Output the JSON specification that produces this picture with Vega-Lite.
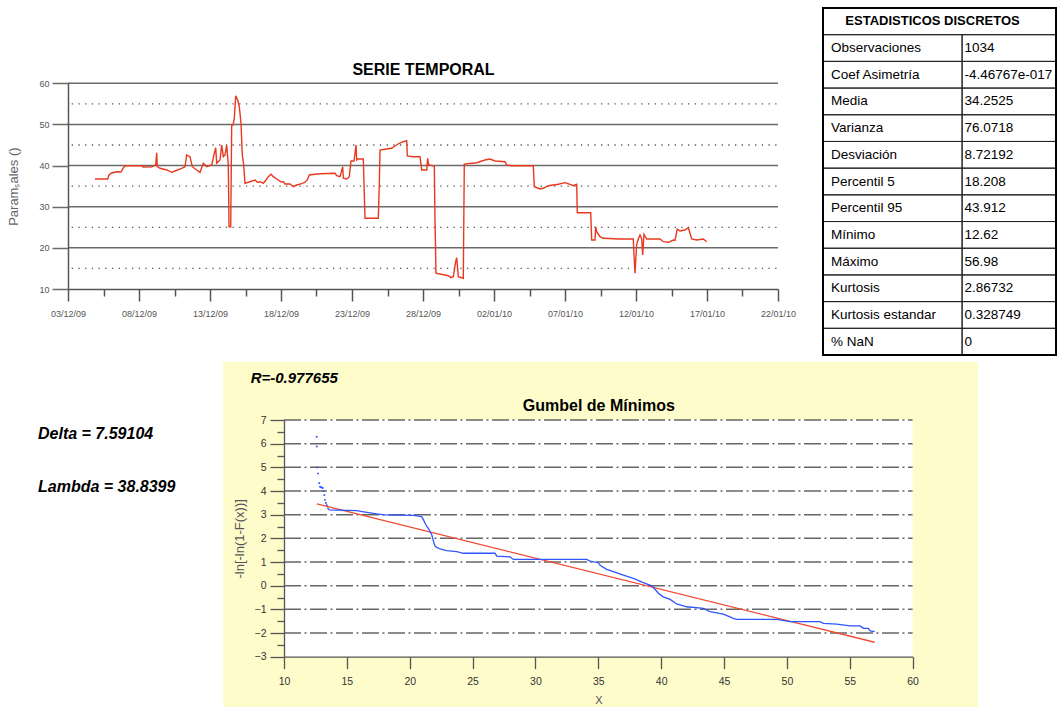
{
  "$schema": "https://vega.github.io/schema/vega-lite/v6.json",
  "width": 1058,
  "height": 709,
  "autosize": {"type": "none"},
  "padding": 0,
  "background": "white",
  "config": {
    "view": {"stroke": null},
    "font": "Liberation Sans",
    "axis": {"labelFont": "Liberation Sans", "titleFont": "Liberation Sans", "grid": false}
  },
  "datasets": {
    "serie": [
      {"fecha": "2009-12-04T21:38", "valor": 36.74},
      {"fecha": "2009-12-05T19:06", "valor": 36.74},
      {"fecha": "2009-12-05T21:18", "valor": 37.71},
      {"fecha": "2009-12-06T01:52", "valor": 38.20},
      {"fecha": "2009-12-06T10:19", "valor": 38.51},
      {"fecha": "2009-12-06T17:35", "valor": 38.44},
      {"fecha": "2009-12-06T20:58", "valor": 39.34},
      {"fecha": "2009-12-07T00:20", "valor": 39.97},
      {"fecha": "2009-12-08T04:34", "valor": 39.97},
      {"fecha": "2009-12-08T06:46", "valor": 39.65},
      {"fecha": "2009-12-08T21:28", "valor": 39.73},
      {"fecha": "2009-12-09T04:14", "valor": 40.14},
      {"fecha": "2009-12-09T05:55", "valor": 43.13},
      {"fecha": "2009-12-09T06:56", "valor": 39.73},
      {"fecha": "2009-12-09T11:30", "valor": 39.34},
      {"fecha": "2009-12-09T22:49", "valor": 38.93},
      {"fecha": "2009-12-10T07:16", "valor": 38.37},
      {"fecha": "2009-12-10T12:51", "valor": 38.68},
      {"fecha": "2009-12-11T00:10", "valor": 39.34},
      {"fecha": "2009-12-11T05:45", "valor": 39.73},
      {"fecha": "2009-12-11T08:37", "valor": 42.57},
      {"fecha": "2009-12-11T14:12", "valor": 42.16},
      {"fecha": "2009-12-11T18:05", "valor": 39.73},
      {"fecha": "2009-12-12T01:31", "valor": 38.93},
      {"fecha": "2009-12-12T07:06", "valor": 38.37},
      {"fecha": "2009-12-12T12:41", "valor": 40.55},
      {"fecha": "2009-12-12T18:25", "valor": 39.73},
      {"fecha": "2009-12-13T02:52", "valor": 40.14},
      {"fecha": "2009-12-13T07:16", "valor": 42.98},
      {"fecha": "2009-12-13T09:38", "valor": 44.35},
      {"fecha": "2009-12-13T11:19", "valor": 40.60},
      {"fecha": "2009-12-13T16:54", "valor": 41.36},
      {"fecha": "2009-12-13T19:46", "valor": 45.00},
      {"fecha": "2009-12-13T22:29", "valor": 42.16},
      {"fecha": "2009-12-14T01:21", "valor": 42.57},
      {"fecha": "2009-12-14T04:14", "valor": 45.00},
      {"fecha": "2009-12-14T06:56", "valor": 40.14},
      {"fecha": "2009-12-14T08:07", "valor": 25.14},
      {"fecha": "2009-12-14T10:59", "valor": 25.14},
      {"fecha": "2009-12-14T12:41", "valor": 49.86},
      {"fecha": "2009-12-14T14:52", "valor": 49.86},
      {"fecha": "2009-12-14T17:04", "valor": 51.49},
      {"fecha": "2009-12-14T19:26", "valor": 56.98},
      {"fecha": "2009-12-14T22:49", "valor": 55.94},
      {"fecha": "2009-12-15T01:31", "valor": 54.31},
      {"fecha": "2009-12-15T04:24", "valor": 50.28},
      {"fecha": "2009-12-15T06:36", "valor": 42.57},
      {"fecha": "2009-12-15T08:57", "valor": 40.14},
      {"fecha": "2009-12-15T11:09", "valor": 35.69},
      {"fecha": "2009-12-15T16:44", "valor": 35.94},
      {"fecha": "2009-12-16T04:03", "valor": 36.50},
      {"fecha": "2009-12-16T07:57", "valor": 35.94},
      {"fecha": "2009-12-16T12:30", "valor": 36.08},
      {"fecha": "2009-12-16T18:05", "valor": 35.69},
      {"fecha": "2009-12-16T22:39", "valor": 36.50},
      {"fecha": "2009-12-17T02:32", "valor": 37.30},
      {"fecha": "2009-12-17T07:06", "valor": 37.88},
      {"fecha": "2009-12-17T10:59", "valor": 37.30},
      {"fecha": "2009-12-17T19:26", "valor": 36.50},
      {"fecha": "2009-12-17T23:30", "valor": 36.08},
      {"fecha": "2009-12-18T03:53", "valor": 36.08},
      {"fecha": "2009-12-18T06:46", "valor": 35.52},
      {"fecha": "2009-12-18T15:13", "valor": 35.52},
      {"fecha": "2009-12-18T20:47", "valor": 34.87},
      {"fecha": "2009-12-19T02:32", "valor": 35.28},
      {"fecha": "2009-12-19T10:59", "valor": 35.60},
      {"fecha": "2009-12-19T16:34", "valor": 35.94},
      {"fecha": "2009-12-19T20:27", "valor": 36.50},
      {"fecha": "2009-12-19T23:50", "valor": 37.71},
      {"fecha": "2009-12-20T09:28", "valor": 37.88},
      {"fecha": "2009-12-20T17:55", "valor": 38.03},
      {"fecha": "2009-12-21T19:16", "valor": 38.12},
      {"fecha": "2009-12-21T22:08", "valor": 37.54},
      {"fecha": "2009-12-22T03:43", "valor": 37.30},
      {"fecha": "2009-12-22T08:17", "valor": 39.73},
      {"fecha": "2009-12-22T09:18", "valor": 36.91},
      {"fecha": "2009-12-22T15:03", "valor": 36.74},
      {"fecha": "2009-12-22T19:26", "valor": 37.30},
      {"fecha": "2009-12-22T22:18", "valor": 41.11},
      {"fecha": "2009-12-23T03:23", "valor": 41.11},
      {"fecha": "2009-12-23T06:46", "valor": 45.00},
      {"fecha": "2009-12-23T07:57", "valor": 41.36},
      {"fecha": "2009-12-23T10:39", "valor": 41.60},
      {"fecha": "2009-12-23T19:06", "valor": 41.60},
      {"fecha": "2009-12-23T21:58", "valor": 27.19},
      {"fecha": "2009-12-24T20:27", "valor": 27.19},
      {"fecha": "2009-12-24T22:08", "valor": 35.28},
      {"fecha": "2009-12-24T23:19", "valor": 43.79},
      {"fecha": "2009-12-25T10:39", "valor": 44.03},
      {"fecha": "2009-12-25T19:06", "valor": 44.20},
      {"fecha": "2009-12-26T00:41", "valor": 44.76},
      {"fecha": "2009-12-26T07:57", "valor": 45.42},
      {"fecha": "2009-12-26T14:42", "valor": 45.80},
      {"fecha": "2009-12-26T20:27", "valor": 46.05},
      {"fecha": "2009-12-26T21:28", "valor": 42.33},
      {"fecha": "2009-12-27T07:36", "valor": 42.16},
      {"fecha": "2009-12-27T18:56", "valor": 42.16},
      {"fecha": "2009-12-27T21:48", "valor": 38.93},
      {"fecha": "2009-12-28T06:15", "valor": 38.93},
      {"fecha": "2009-12-28T07:57", "valor": 41.77},
      {"fecha": "2009-12-28T09:38", "valor": 40.14},
      {"fecha": "2009-12-28T19:06", "valor": 39.90},
      {"fecha": "2009-12-28T20:17", "valor": 26.77},
      {"fecha": "2009-12-28T21:58", "valor": 13.82},
      {"fecha": "2009-12-29T18:46", "valor": 13.23},
      {"fecha": "2009-12-29T23:19", "valor": 12.75},
      {"fecha": "2009-12-30T03:13", "valor": 12.99},
      {"fecha": "2009-12-30T07:16", "valor": 16.64},
      {"fecha": "2009-12-30T08:57", "valor": 17.61},
      {"fecha": "2009-12-30T11:40", "valor": 12.99},
      {"fecha": "2009-12-30T20:07", "valor": 12.62},
      {"fecha": "2009-12-30T21:48", "valor": 40.38},
      {"fecha": "2009-12-31T18:46", "valor": 40.70},
      {"fecha": "2010-01-01T08:47", "valor": 41.36},
      {"fecha": "2010-01-01T17:14", "valor": 41.60},
      {"fecha": "2010-01-02T01:41", "valor": 41.11},
      {"fecha": "2010-01-02T18:35", "valor": 40.94},
      {"fecha": "2010-01-02T21:28", "valor": 40.14},
      {"fecha": "2010-01-03T05:55", "valor": 39.97},
      {"fecha": "2010-01-04T18:25", "valor": 39.97},
      {"fecha": "2010-01-04T20:07", "valor": 34.87},
      {"fecha": "2010-01-05T05:45", "valor": 34.31},
      {"fecha": "2010-01-05T11:19", "valor": 34.48},
      {"fecha": "2010-01-05T19:46", "valor": 35.11},
      {"fecha": "2010-01-06T12:41", "valor": 35.45},
      {"fecha": "2010-01-07T00:00", "valor": 35.84},
      {"fecha": "2010-01-07T08:27", "valor": 35.45},
      {"fecha": "2010-01-07T14:02", "valor": 35.11},
      {"fecha": "2010-01-07T19:46", "valor": 35.45},
      {"fecha": "2010-01-07T20:47", "valor": 28.55},
      {"fecha": "2010-01-08T19:26", "valor": 28.55},
      {"fecha": "2010-01-08T21:08", "valor": 21.91},
      {"fecha": "2010-01-09T02:42", "valor": 21.91},
      {"fecha": "2010-01-09T03:53", "valor": 25.14},
      {"fecha": "2010-01-09T05:35", "valor": 23.93},
      {"fecha": "2010-01-09T11:09", "valor": 22.71},
      {"fecha": "2010-01-09T16:44", "valor": 22.32},
      {"fecha": "2010-01-10T19:46", "valor": 22.15},
      {"fecha": "2010-01-11T19:26", "valor": 22.15},
      {"fecha": "2010-01-11T20:37", "valor": 18.26},
      {"fecha": "2010-01-11T22:18", "valor": 13.82},
      {"fecha": "2010-01-12T01:11", "valor": 20.86},
      {"fecha": "2010-01-12T03:53", "valor": 22.15},
      {"fecha": "2010-01-12T06:46", "valor": 23.13},
      {"fecha": "2010-01-12T09:38", "valor": 22.15},
      {"fecha": "2010-01-12T11:19", "valor": 18.26},
      {"fecha": "2010-01-12T13:31", "valor": 23.30},
      {"fecha": "2010-01-12T18:05", "valor": 22.15},
      {"fecha": "2010-01-13T16:34", "valor": 22.15},
      {"fecha": "2010-01-13T22:08", "valor": 21.50},
      {"fecha": "2010-01-14T06:36", "valor": 21.35},
      {"fecha": "2010-01-14T15:03", "valor": 21.91},
      {"fecha": "2010-01-14T17:55", "valor": 21.80},
      {"fecha": "2010-01-14T21:48", "valor": 24.58},
      {"fecha": "2010-01-15T02:22", "valor": 24.10},
      {"fecha": "2010-01-15T10:49", "valor": 24.34},
      {"fecha": "2010-01-15T16:24", "valor": 24.90},
      {"fecha": "2010-01-15T22:08", "valor": 22.15},
      {"fecha": "2010-01-16T06:36", "valor": 21.91},
      {"fecha": "2010-01-16T17:45", "valor": 22.15},
      {"fecha": "2010-01-16T23:30", "valor": 21.50}
    ],
    "estadisticos": [
      {"estadistico": "Observaciones", "valor": "1034"},
      {"estadistico": "Coef Asimetría", "valor": "-4.46767e-017"},
      {"estadistico": "Media", "valor": "34.2525"},
      {"estadistico": "Varianza", "valor": "76.0718"},
      {"estadistico": "Desviación", "valor": "8.72192"},
      {"estadistico": "Percentil 5", "valor": "18.208"},
      {"estadistico": "Percentil 95", "valor": "43.912"},
      {"estadistico": "Mínimo", "valor": "12.62"},
      {"estadistico": "Máximo", "valor": "56.98"},
      {"estadistico": "Kurtosis", "valor": "2.86732"},
      {"estadistico": "Kurtosis estandar", "valor": "0.328749"},
      {"estadistico": "% NaN", "valor": "0"}
    ],
    "empirica": [
      {"valor": 12.60, "reducida": 6.29},
      {"valor": 12.61, "reducida": 5.88},
      {"valor": 12.65, "reducida": 5.00},
      {"valor": 12.70, "reducida": 4.74},
      {"valor": 12.80, "reducida": 4.33},
      {"valor": 12.86, "reducida": 4.18},
      {"valor": 12.93, "reducida": 4.16},
      {"valor": 13.00, "reducida": 4.15},
      {"valor": 13.08, "reducida": 4.13},
      {"valor": 13.13, "reducida": 4.00},
      {"valor": 13.21, "reducida": 3.83},
      {"valor": 13.26, "reducida": 3.62},
      {"valor": 13.33, "reducida": 3.50},
      {"valor": 13.40, "reducida": 3.40},
      {"valor": 13.45, "reducida": 3.30},
      {"valor": 13.60, "reducida": 3.20},
      {"valor": 15.78, "reducida": 3.17},
      {"valor": 16.58, "reducida": 3.10},
      {"valor": 17.37, "reducida": 3.03},
      {"valor": 18.04, "reducida": 2.99},
      {"valor": 20.29, "reducida": 2.97},
      {"valor": 20.95, "reducida": 2.92},
      {"valor": 21.08, "reducida": 2.80},
      {"valor": 21.22, "reducida": 2.64},
      {"valor": 21.35, "reducida": 2.52},
      {"valor": 21.48, "reducida": 2.42},
      {"valor": 21.61, "reducida": 2.30},
      {"valor": 21.75, "reducida": 2.15},
      {"valor": 21.83, "reducida": 2.00},
      {"valor": 21.93, "reducida": 1.79},
      {"valor": 22.01, "reducida": 1.68},
      {"valor": 22.15, "reducida": 1.62},
      {"valor": 22.41, "reducida": 1.55},
      {"valor": 22.94, "reducida": 1.48},
      {"valor": 23.74, "reducida": 1.44},
      {"valor": 24.26, "reducida": 1.37},
      {"valor": 26.79, "reducida": 1.37},
      {"valor": 26.92, "reducida": 1.25},
      {"valor": 27.98, "reducida": 1.22},
      {"valor": 28.24, "reducida": 1.11},
      {"valor": 34.08, "reducida": 1.11},
      {"valor": 34.34, "reducida": 1.04},
      {"valor": 35.00, "reducida": 0.97},
      {"valor": 35.14, "reducida": 0.86},
      {"valor": 35.67, "reducida": 0.69},
      {"valor": 36.20, "reducida": 0.59},
      {"valor": 36.99, "reducida": 0.45},
      {"valor": 37.79, "reducida": 0.31},
      {"valor": 38.58, "reducida": 0.13},
      {"valor": 39.25, "reducida": -0.01},
      {"valor": 39.51, "reducida": -0.15},
      {"valor": 39.78, "reducida": -0.32},
      {"valor": 40.17, "reducida": -0.47},
      {"valor": 40.71, "reducida": -0.58},
      {"valor": 41.24, "reducida": -0.77},
      {"valor": 42.04, "reducida": -0.89},
      {"valor": 43.36, "reducida": -0.96},
      {"valor": 43.89, "reducida": -1.10},
      {"valor": 44.95, "reducida": -1.20},
      {"valor": 45.74, "reducida": -1.38},
      {"valor": 46.01, "reducida": -1.42},
      {"valor": 49.20, "reducida": -1.42},
      {"valor": 50.25, "reducida": -1.52},
      {"valor": 52.64, "reducida": -1.52},
      {"valor": 52.90, "reducida": -1.59},
      {"valor": 53.97, "reducida": -1.62},
      {"valor": 55.03, "reducida": -1.70},
      {"valor": 55.82, "reducida": -1.70},
      {"valor": 56.09, "reducida": -1.80},
      {"valor": 56.48, "reducida": -1.80},
      {"valor": 56.62, "reducida": -1.91},
      {"valor": 56.98, "reducida": -1.94}
    ],
    "ajuste": [
      {"valor": 12.62, "reducida": 3.4541},
      {"valor": 56.98, "reducida": -2.3897}
    ]
  },
  "layer": [
    {
      "layer": [
        {
          "data": {"values": [{"nivel": 20}, {"nivel": 30}, {"nivel": 40}, {"nivel": 50}, {"nivel": 60}]},
          "mark": {"type": "rule", "color": "#6a6a6a", "strokeWidth": 1.5},
          "encoding": {
            "y": {
              "field": "nivel", "type": "quantitative",
              "scale": {"domain": [10, 60], "range": [289, 83.3], "nice": false, "zero": false},
              "axis": {
                "orient": "left", "offset": -68, "values": [10, 20, 30, 40, 50, 60],
                "tickSize": 16, "tickColor": "#6a6a6a", "tickWidth": 1.5,
                "domainColor": "#555555", "domainWidth": 1.5,
                "labelFontSize": 9, "labelColor": "#555555", "labelPadding": 3,
                "title": "Paramₛales ()", "titleFontSize": 13, "titleFontWeight": "normal",
                "titleColor": "#666666", "titlePadding": 18, "zindex": 1
              }
            },
            "x": {
              "datum": {"year": 2009, "month": 12, "date": 3}, "type": "temporal",
              "scale": {"domain": [{"year": 2009, "month": 12, "date": 3}, {"year": 2010, "month": 1, "date": 22}], "range": [68, 778]},
              "axis": {
                "orient": "bottom", "offset": -420,
                "values": [
                  {"year": 2009, "month": 12, "date": 3}, {"year": 2009, "month": 12, "date": 8},
                  {"year": 2009, "month": 12, "date": 13}, {"year": 2009, "month": 12, "date": 18},
                  {"year": 2009, "month": 12, "date": 23}, {"year": 2009, "month": 12, "date": 28},
                  {"year": 2010, "month": 1, "date": 2}, {"year": 2010, "month": 1, "date": 7},
                  {"year": 2010, "month": 1, "date": 12}, {"year": 2010, "month": 1, "date": 17},
                  {"year": 2010, "month": 1, "date": 22}
                ],
                "format": "%d/%m/%y", "tickSize": 12, "tickColor": "#555555", "tickWidth": 1.5,
                "domainColor": "#555555", "domainWidth": 1.5,
                "labelFontSize": 9, "labelColor": "#555555", "labelPadding": 8,
                "labelFlush": false, "labelOverlap": false, "title": null, "zindex": 1
              }
            },
            "x2": {"datum": {"year": 2010, "month": 1, "date": 22}}
          }
        },
        {
          "data": {"values": [{"nivel": 15}, {"nivel": 25}, {"nivel": 35}, {"nivel": 45}, {"nivel": 55}]},
          "mark": {"type": "rule", "color": "#555555", "strokeWidth": 1.3, "strokeDash": [1.3, 5.4], "strokeDashOffset": 3},
          "encoding": {
            "y": {"field": "nivel", "type": "quantitative", "axis": null},
            "x": {
              "datum": {"year": 2009, "month": 12, "date": 3}, "type": "temporal",
              "axis": {
                "orient": "bottom", "offset": -420,
                "values": [
                  {"year": 2009, "month": 12, "date": 5, "hours": 12}, {"year": 2009, "month": 12, "date": 10, "hours": 12},
                  {"year": 2009, "month": 12, "date": 15, "hours": 12}, {"year": 2009, "month": 12, "date": 20, "hours": 12},
                  {"year": 2009, "month": 12, "date": 25, "hours": 12}, {"year": 2009, "month": 12, "date": 30, "hours": 12},
                  {"year": 2010, "month": 1, "date": 4, "hours": 12}, {"year": 2010, "month": 1, "date": 9, "hours": 12},
                  {"year": 2010, "month": 1, "date": 14, "hours": 12}, {"year": 2010, "month": 1, "date": 19, "hours": 12}
                ],
                "tickSize": 7, "tickColor": "#555555", "tickWidth": 1.5,
                "labels": false, "domain": false, "title": null, "zindex": 1
              }
            },
            "x2": {"datum": {"year": 2010, "month": 1, "date": 22}}
          }
        },
        {
          "data": {"name": "serie"},
          "mark": {"type": "line", "color": "#e8391f", "strokeWidth": 1.4},
          "encoding": {
            "x": {
              "field": "fecha", "type": "temporal",
              "axis": {
                "orient": "top", "offset": -83.3, "domain": false, "ticks": false, "labels": false,
                "title": "SERIE TEMPORAL", "titleFontSize": 16, "titleFontWeight": "bold",
                "titleColor": "black", "titlePadding": 6, "minExtent": 0
              }
            },
            "y": {"field": "valor", "type": "quantitative", "axis": null}
          }
        }
      ],
      "resolve": {"axis": {"x": "independent", "y": "independent"}}
    },
    {
      "layer": [
        {
          "layer": [
            {
              "data": {"name": "estadisticos"},
              "mark": {"type": "rect", "filled": false, "color": "#222222", "strokeWidth": 1},
              "encoding": {
                "x": {"datum": 0, "type": "quantitative", "scale": {"domain": [0, 1], "range": [823, 1056], "nice": false, "zero": false}, "axis": null},
                "x2": {"datum": 0.597},
                "y": {
                  "field": "estadistico", "type": "nominal",
                  "scale": {
                    "domain": ["ESTADISTICOS DISCRETOS", "Observaciones", "Coef Asimetría", "Media", "Varianza", "Desviación", "Percentil 5", "Percentil 95", "Mínimo", "Máximo", "Kurtosis", "Kurtosis estandar", "% NaN"],
                    "range": [8, 355], "paddingInner": 0, "paddingOuter": 0
                  },
                  "axis": null
                }
              }
            },
            {
              "data": {"name": "estadisticos"},
              "mark": {"type": "rect", "filled": false, "color": "#222222", "strokeWidth": 1},
              "encoding": {
                "x": {"datum": 0.597, "type": "quantitative", "axis": null},
                "x2": {"datum": 1},
                "y": {"field": "estadistico", "type": "nominal", "axis": null}
              }
            },
            {
              "data": {"values": [{"estadistico": "ESTADISTICOS DISCRETOS"}]},
              "mark": {"type": "rect", "filled": false, "color": "#222222", "strokeWidth": 1},
              "encoding": {
                "x": {"datum": 0, "type": "quantitative", "axis": null},
                "x2": {"datum": 1},
                "y": {"field": "estadistico", "type": "nominal", "axis": null}
              }
            },
            {
              "data": {"values": [{"estadistico": "ESTADISTICOS DISCRETOS"}]},
              "mark": {"type": "text", "align": "center", "baseline": "middle", "fontSize": 13, "fontWeight": "bold", "color": "black"},
              "encoding": {
                "x": {"datum": 0.47, "type": "quantitative", "axis": null},
                "y": {"field": "estadistico", "type": "nominal", "axis": null},
                "text": {"field": "estadistico"}
              }
            },
            {
              "data": {"name": "estadisticos"},
              "mark": {"type": "text", "align": "left", "baseline": "middle", "fontSize": 13.5, "color": "black"},
              "encoding": {
                "x": {"datum": 0.034, "type": "quantitative", "axis": null},
                "y": {"field": "estadistico", "type": "nominal", "axis": null},
                "text": {"field": "estadistico"}
              }
            },
            {
              "data": {"name": "estadisticos"},
              "mark": {"type": "text", "align": "left", "baseline": "middle", "fontSize": 13.5, "color": "black"},
              "encoding": {
                "x": {"datum": 0.607, "type": "quantitative", "axis": null},
                "y": {"field": "estadistico", "type": "nominal", "axis": null},
                "text": {"field": "valor"}
              }
            }
          ]
        },
        {
          "data": {"values": [{"tabla": "ESTADISTICOS DISCRETOS"}]},
          "mark": {"type": "rect", "filled": false, "color": "black", "strokeWidth": 2},
          "encoding": {
            "x": {"datum": 0, "type": "quantitative", "axis": null},
            "x2": {"datum": 1},
            "y": {"datum": 0, "type": "quantitative", "scale": {"domain": [0, 1], "range": [8, 355], "nice": false, "zero": false}, "axis": null},
            "y2": {"datum": 1}
          }
        }
      ],
      "resolve": {"scale": {"y": "independent"}}
    },
    {
      "layer": [
        {
          "data": {"values": [{"panel": "Gumbel de Mínimos"}]},
          "mark": {"type": "rect", "color": "#fffccc"},
          "encoding": {
            "x": {
              "datum": 5.148, "type": "quantitative",
              "scale": {"domain": [10, 60], "range": [284, 912.6], "nice": false, "zero": false},
              "axis": {
                "orient": "bottom", "offset": -52.3, "values": [10, 15, 20, 25, 30, 35, 40, 45, 50, 55, 60],
                "tickSize": 12, "tickColor": "#555555", "tickWidth": 1.3,
                "domainColor": "#555555", "domainWidth": 1.3,
                "labelFontSize": 10.5, "labelColor": "#333333", "labelPadding": 8,
                "labelFlush": false, "labelOverlap": false,
                "title": "X", "titleFontSize": 11, "titleFontWeight": "normal", "titleColor": "#555555",
                "titlePadding": 7, "zindex": 1
              }
            },
            "x2": {"datum": 65.2},
            "y": {
              "datum": 9.45, "type": "quantitative",
              "scale": {"domain": [-3, 7], "range": [656.7, 420], "nice": false, "zero": false},
              "axis": {
                "orient": "left", "offset": -284, "values": [-3, -2, -1, 0, 1, 2, 3, 4, 5, 6, 7],
                "tickSize": 14, "tickColor": "#555555", "tickWidth": 1.3,
                "domainColor": "#555555", "domainWidth": 1.3,
                "labelFontSize": 10.5, "labelColor": "#333333", "labelPadding": 4,
                "title": "-ln[-ln(1-F(x))]", "titleFontSize": 13, "titleFontWeight": "normal",
                "titleColor": "#555555", "titlePadding": 8, "zindex": 1
              }
            },
            "y2": {"datum": -5.125}
          }
        },
        {
          "data": {"values": [{"panel": "Gumbel de Mínimos"}]},
          "mark": {"type": "rect", "color": "white"},
          "encoding": {
            "x": {
              "datum": 10, "type": "quantitative",
              "axis": {
                "orient": "top", "offset": -420, "domain": false, "ticks": false, "labels": false,
                "title": "Gumbel de Mínimos", "titleFontSize": 16, "titleFontWeight": "bold",
                "titleColor": "black", "titlePadding": 6.5, "minExtent": 0, "zindex": 1
              }
            },
            "x2": {"datum": 60},
            "y": {
              "datum": -3, "type": "quantitative",
              "axis": {
                "orient": "left", "offset": -284,
                "values": [-2.5, -1.5, -0.5, 0.5, 1.5, 2.5, 3.5, 4.5, 5.5, 6.5],
                "tickSize": 7, "tickColor": "#555555", "tickWidth": 1.3,
                "labels": false, "domain": false, "title": null, "zindex": 1
              }
            },
            "y2": {"datum": 7}
          }
        },
        {
          "data": {"values": [{"nivel": -2}, {"nivel": -1}, {"nivel": 0}, {"nivel": 1}, {"nivel": 2}, {"nivel": 3}, {"nivel": 4}, {"nivel": 5}, {"nivel": 6}, {"nivel": 7}]},
          "mark": {"type": "rule", "color": "#666666", "strokeWidth": 1.5, "strokeDash": [17, 3.5, 2, 3.5]},
          "encoding": {
            "y": {"field": "nivel", "type": "quantitative", "axis": null},
            "x": {"datum": 10, "type": "quantitative", "axis": null},
            "x2": {"datum": 60}
          }
        },
        {
          "data": {"name": "ajuste"},
          "mark": {"type": "line", "color": "#f04a32", "strokeWidth": 1.3},
          "encoding": {
            "x": {"field": "valor", "type": "quantitative", "axis": null},
            "y": {"field": "reducida", "type": "quantitative", "axis": null}
          }
        },
        {
          "data": {"name": "empirica"},
          "transform": [{"filter": "datum.reducida <= 3.3"}],
          "mark": {"type": "line", "color": "#2f55ff", "strokeWidth": 1.3},
          "encoding": {
            "x": {"field": "valor", "type": "quantitative", "axis": null},
            "y": {"field": "reducida", "type": "quantitative", "axis": null}
          }
        },
        {
          "data": {"name": "empirica"},
          "transform": [{"filter": "datum.reducida > 3.3"}],
          "mark": {"type": "square", "size": 3, "color": "#2f55ff", "opacity": 1, "filled": true},
          "encoding": {
            "x": {"field": "valor", "type": "quantitative", "axis": null},
            "y": {"field": "reducida", "type": "quantitative", "axis": null}
          }
        },
        {
          "data": {"values": [{"etiqueta": "R=-0.977655"}]},
          "mark": {"type": "text", "align": "left", "baseline": "middle", "fontSize": 15, "fontWeight": "bold", "fontStyle": "italic", "color": "black"},
          "encoding": {
            "x": {"datum": 7.35, "type": "quantitative", "axis": null},
            "y": {"datum": 8.774, "type": "quantitative", "axis": null},
            "text": {"field": "etiqueta"}
          }
        },
        {
          "data": {"values": [{"etiqueta": "Delta = 7.59104"}]},
          "mark": {"type": "text", "align": "left", "baseline": "middle", "fontSize": 16, "fontWeight": "bold", "fontStyle": "italic", "color": "black"},
          "encoding": {
            "x": {"datum": -9.567, "type": "quantitative", "axis": null},
            "y": {"datum": 6.396, "type": "quantitative", "axis": null},
            "text": {"field": "etiqueta"}
          }
        },
        {
          "data": {"values": [{"etiqueta": "Lambda = 38.8399"}]},
          "mark": {"type": "text", "align": "left", "baseline": "middle", "fontSize": 16, "fontWeight": "bold", "fontStyle": "italic", "color": "black"},
          "encoding": {
            "x": {"datum": -9.567, "type": "quantitative", "axis": null},
            "y": {"datum": 4.157, "type": "quantitative", "axis": null},
            "text": {"field": "etiqueta"}
          }
        }
      ],
      "resolve": {"axis": {"x": "independent", "y": "independent"}}
    }
  ],
  "resolve": {
    "scale": {"x": "independent", "y": "independent"},
    "axis": {"x": "independent", "y": "independent"}
  }
}
